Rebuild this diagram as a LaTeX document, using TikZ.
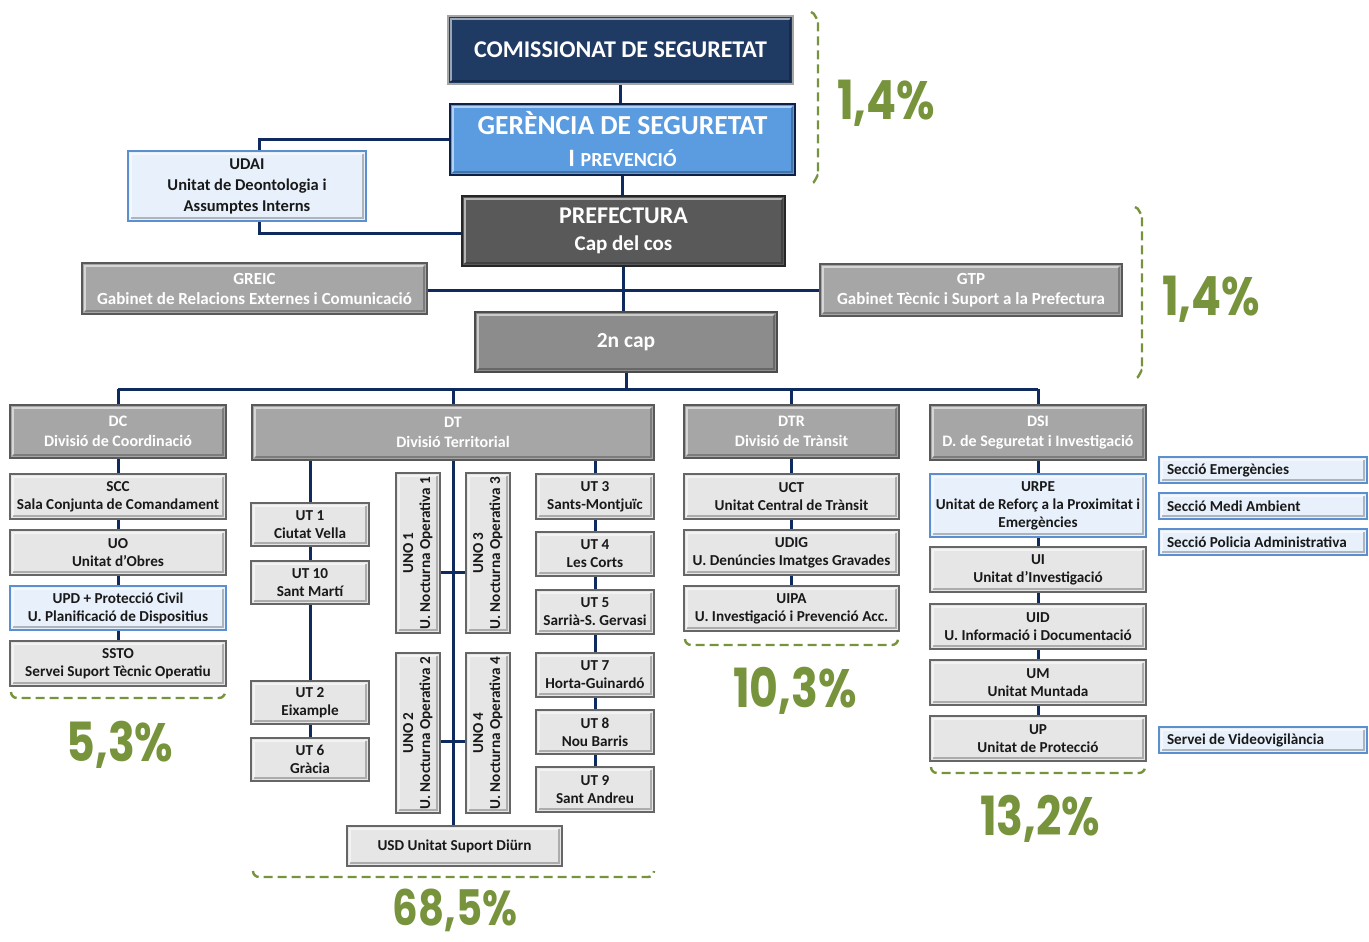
\documentclass[tikz,border=0pt]{standalone}
\usepackage{fontspec}
\usepackage{graphicx}
\setmainfont{Carlito}
\newfontfamily\pctfont{Poppins}
\usetikzlibrary{backgrounds,calc}
\definecolor{navy}{HTML}{0F2A5E}
\definecolor{comfill}{HTML}{1F3A63}
\definecolor{gerfill}{HTML}{5B9BE0}
\definecolor{lgfill}{HTML}{E6E6E6}
\definecolor{mgfill}{HTML}{A6A6A6}
\definecolor{lbfill}{HTML}{E8F1FB}
\definecolor{lbdraw}{HTML}{5B8FD0}
\definecolor{green}{HTML}{77933C}
\newcommand\fsm{\fontsize{15.2}{18}\selectfont}
\newcommand\fsh{\fontsize{16}{19.5}\selectfont}
\newcommand\bx[7]{\node[bx,#6,minimum width={(#4-#2)*1pt},minimum height={(#5-#3)*1pt}] (#1) at ({(#2+#4)/2},{(#3+#5)/2}) {#7};}
\newcommand\sx[6]{\node[bx,lb,inner xsep=8pt,text width={(#4-#2-16)*1pt},align=flush left,minimum height={(#5-#3)*1pt}] (#1) at ({(#2+#4)/2},{(#3+#5)/2}) {#6};}
\tikzset{
  bx/.style={rectangle,inner sep=0pt,align=center,font=\bfseries\fsm,line width=2pt,
    path picture={
      \coordinate (ppsw) at (path picture bounding box.south west);
      \coordinate (ppne) at (path picture bounding box.north east);
      \draw[white,opacity=.55,line width=1.6pt] ([shift={(3pt,3pt)}]ppsw) -- ([shift={(3pt,-3pt)}]ppsw |- ppne) -- ([shift={(-3pt,-3pt)}]ppne);
      \draw[black,opacity=.25,line width=1.6pt] ([shift={(3pt,3pt)}]ppsw) -- ([shift={(-3pt,3pt)}]ppne |- ppsw) -- ([shift={(-3pt,-3pt)}]ppne);
    }},
  lg/.style={fill=lgfill,draw=black!60,text=black!90},
  mg/.style={fill=mgfill,draw=black!65,text=white,font=\bfseries\fsh},
  lb/.style={fill=lbfill,draw=lbdraw,text=black!90},
  conn/.style={draw=navy,line width=3pt},
  brk/.style={draw=green,line width=2.4pt,dash pattern=on 9pt off 5pt},
  pct/.style={font=\pctfont\bfseries\fontsize{54}{54}\selectfont,text=green,xscale=.82,inner sep=0pt,anchor=base}
}
\begin{document}
\begin{tikzpicture}[x=1pt,y=-1pt]
\useasboundingbox (0,0) rectangle (1369,942);
% top
\bx{com}{448}{16}{793}{84}{fill=comfill,draw=black!35,text=white,font=\bfseries\fontsize{24}{27}\selectfont}{COMISSIONAT DE SEGURETAT}
\bx{ger}{450}{104}{795}{175}{fill=gerfill,draw=navy!80!black,text=white,font=\bfseries\fontsize{27.5}{32}\selectfont}{GERÈNCIA DE SEGURETAT\\{\fontsize{25}{32}\selectfont I \fontsize{20}{32}\selectfont PREVENCIÓ}}
\bx{udai}{128}{151}{366}{221}{lb,font=\bfseries\fontsize{16.5}{21}\selectfont}{UDAI\\Unitat de Deontologia i\\Assumptes Interns}
\bx{pref}{462}{196}{785}{266}{fill=black!65,draw=black!85,text=white,font=\bfseries\fontsize{24}{27}\selectfont}{PREFECTURA\\{\fontsize{21}{27}\selectfont Cap del cos}}
\bx{greic}{82}{263}{427}{314}{mg,font=\bfseries\fontsize{17}{20}\selectfont}{GREIC\\Gabinet de Relacions Externes i Comunicació}
\bx{gtp}{820}{264}{1122}{316}{mg,font=\bfseries\fontsize{17}{20}\selectfont}{GTP\\Gabinet Tècnic i Suport a la Prefectura}
\bx{cap}{475}{312}{777}{372}{fill=black!45,draw=black!70,text=white,font=\bfseries\fontsize{21.5}{24}\selectfont}{2n cap}
% divisions
\bx{dc}{10}{405}{226}{458}{mg}{DC\\Divisió de Coordinació}
\bx{dt}{252}{405}{654}{460}{mg}{DT\\Divisió Territorial}
\bx{dtr}{684}{405}{899}{458}{mg}{DTR\\Divisió de Trànsit}
\bx{dsi}{930}{405}{1146}{460}{mg}{DSI\\D. de Seguretat i Investigació}
% DC
\bx{scc}{10}{474}{226}{519}{lg}{SCC\\Sala Conjunta de Comandament}
\bx{uo}{10}{530}{226}{575}{lg}{UO\\Unitat d’Obres}
\bx{upd}{10}{586}{226}{630}{lb}{UPD + Protecció Civil\\U. Planificació de Dispositius}
\bx{ssto}{10}{641}{226}{686}{lg}{SSTO\\Servei Suport Tècnic Operatiu}
% DT
\bx{ut1}{251}{503}{369}{546}{lg}{UT 1\\Ciutat Vella}
\bx{ut10}{251}{561}{369}{604}{lg}{UT 10\\Sant Martí}
\bx{ut2}{251}{681}{369}{724}{lg}{UT 2\\Eixample}
\bx{ut6}{251}{738}{369}{781}{lg}{UT 6\\Gràcia}
\bx{uno1}{396}{473}{440}{633}{lg}{\rotatebox{90}{\begin{tabular}{@{}c@{}}UNO 1\\[-1pt]U. Nocturna Operativa 1\end{tabular}}}
\bx{uno3}{466}{473}{510}{633}{lg}{\rotatebox{90}{\begin{tabular}{@{}c@{}}UNO 3\\[-1pt]U. Nocturna Operativa 3\end{tabular}}}
\bx{uno2}{396}{653}{440}{813}{lg}{\rotatebox{90}{\begin{tabular}{@{}c@{}}UNO 2\\[-1pt]U. Nocturna Operativa 2\end{tabular}}}
\bx{uno4}{466}{653}{510}{813}{lg}{\rotatebox{90}{\begin{tabular}{@{}c@{}}UNO 4\\[-1pt]U. Nocturna Operativa 4\end{tabular}}}
\bx{usd}{347}{826}{562}{866}{lg}{USD Unitat Suport Diürn}
\bx{ut3}{536}{474}{654}{519}{lg}{UT 3\\Sants-Montjuïc}
\bx{ut4}{536}{532}{654}{576}{lg}{UT 4\\Les Corts}
\bx{ut5}{536}{590}{654}{634}{lg}{UT 5\\Sarrià-S. Gervasi}
\bx{ut7}{536}{653}{654}{697}{lg}{UT 7\\Horta-Guinardó}
\bx{ut8}{536}{710}{654}{754}{lg}{UT 8\\Nou Barris}
\bx{ut9}{536}{767}{654}{812}{lg}{UT 9\\Sant Andreu}
% DTR
\bx{uct}{684}{474}{899}{519}{lg}{UCT\\Unitat Central de Trànsit}
\bx{udig}{684}{530}{899}{575}{lg}{UDIG\\U. Denúncies Imatges Gravades}
\bx{uipa}{684}{586}{899}{631}{lg}{UIPA\\U. Investigació i Prevenció Acc.}
% DSI
\bx{urpe}{930}{474}{1146}{537}{lb}{URPE\\Unitat de Reforç a la Proximitat i\\Emergències}
\bx{ui}{930}{547}{1146}{592}{lg}{UI\\Unitat d’Investigació}
\bx{uid}{930}{604}{1146}{649}{lg}{UID\\U. Informació i Documentació}
\bx{um}{930}{660}{1146}{705}{lg}{UM\\Unitat Muntada}
\bx{up}{930}{716}{1146}{761}{lg}{UP\\Unitat de Protecció}
% sections
\sx{se}{1159}{457}{1367}{483}{Secció Emergències}
\sx{sm}{1159}{493}{1367}{519}{Secció Medi Ambient}
\sx{sp}{1159}{529}{1367}{555}{Secció Policia Administrativa}
\sx{sv}{1159}{727}{1367}{753}{Servei de Videovigilància}
% connectors
\coordinate (bus) at (0,389);
\begin{scope}[on background layer]
\draw[conn] (com.south) -- (com.south |- ger.north);
\draw[conn] (ger.south) -- (ger.south |- pref.north);
\draw[conn] (ger.west) -| ([xshift=12pt]udai.south) |- ([yshift=-2pt]pref.west);
\draw[conn] (greic.east |- gtp.west) -- (gtp.west);
\draw[conn] (pref.south) -- (pref.south |- cap.north);
\draw[conn] (cap.south) -- (cap.south |- bus);
\draw[conn] (dc.north |- bus) -- (dsi.north |- bus);
\draw[conn] (dc.north) -- (dc.north |- bus);
\draw[conn] (dt.north) -- (dt.north |- bus);
\draw[conn] (dtr.north) -- (dtr.north |- bus);
\draw[conn] (dsi.north) -- (dsi.north |- bus);
\draw[conn] (dc.south) -- (ssto.north);
\draw[conn] (ut1.north |- dt.south) -- (ut6.north);
\draw[conn] (dt.south) -- (dt.south |- usd.north);
\draw[conn] (ut3.north |- dt.south) -- (ut9.north);
\draw[conn] ([yshift=-19pt]uno1.east) -- ([yshift=-19pt]uno3.west);
\draw[conn] ([yshift=-8pt]uno2.east) -- ([yshift=-8pt]uno4.west);
\draw[conn] (dtr.south) -- (uipa.north);
\draw[conn] (dsi.south) -- (up.north);
\end{scope}
% brackets
\draw[brk] (811,12) to[out=0,in=-90] (818,20) -- (818,176) to[out=90,in=0] (811,184);
\draw[brk] (1135,207) to[out=0,in=-90] (1142,215) -- (1142,371) to[out=90,in=0] (1135,379);
\draw[brk] (11,692) to[out=-90,in=180] (17,698) -- (219,698) to[out=0,in=-90] (225,692);
\draw[brk] (253,871) to[out=-90,in=180] (259,877) -- (648,877) to[out=0,in=-90] (654,871);
\draw[brk] (685,639) to[out=-90,in=180] (691,645) -- (892,645) to[out=0,in=-90] (898,639);
\draw[brk] (931,767) to[out=-90,in=180] (937,773) -- (1139,773) to[out=0,in=-90] (1145,767);
% percentages
\node[pct] (p1) at (886,119) {1,4\%};
\node[pct] (p2) at (1211,315) {1,4\%};
\node[pct] (p3) at (120,761) {5,3\%};
\node[pct,font=\pctfont\bfseries\fontsize{49}{49}\selectfont] (p4) at (455,925) {68,5\%};
\node[pct] (p5) at (795,707) {10,3\%};
\node[pct] (p6) at (1040,835) {13,2\%};
\end{tikzpicture}
\end{document}
